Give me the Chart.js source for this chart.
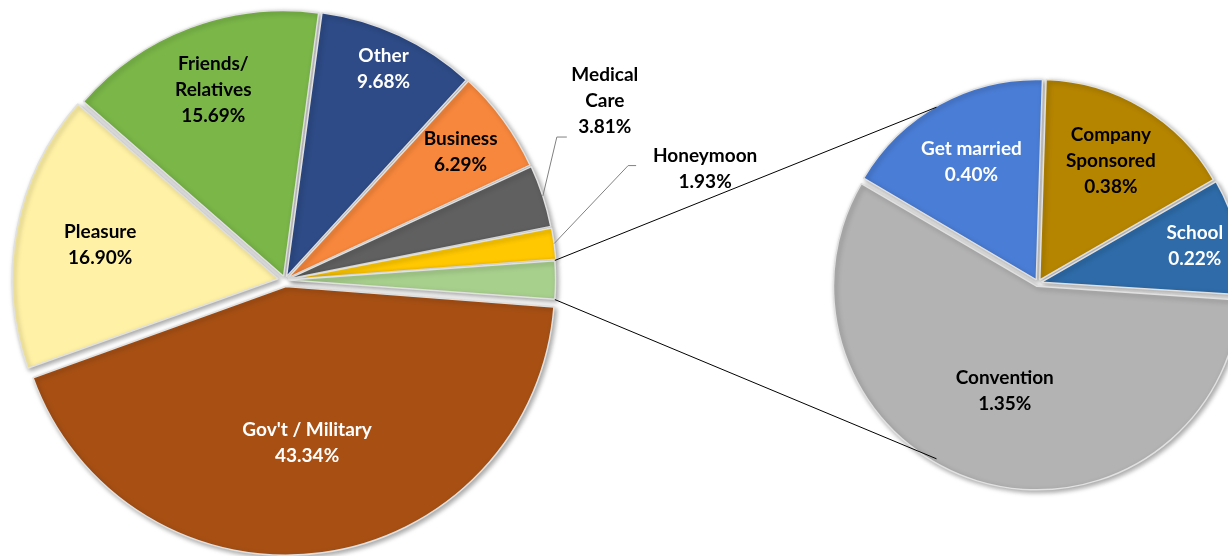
<!DOCTYPE html>
<html>
<head>
<meta charset="utf-8">
<script src="https://cdn.jsdelivr.net/npm/chart.js@4.4.1/dist/chart.umd.min.js"></script>
<style>
  html, body { margin: 0; padding: 0; background: #fff; overflow: hidden; }
  .wrap { position: absolute; left: 0; top: 0; width: 1228px; height: 556px; }
</style>
</head>
<body>
<div class="wrap"><canvas id="mainPie"></canvas></div>
<div class="wrap"><canvas id="subPie"></canvas></div>
<script>
// main pie
const mainCategories = [["Gov't / Military"], ['Pleasure'], ['Friends/', 'Relatives'], ['Other'], ['Business'], ['Medical', 'Care'], ['Honeymoon']];
const mainValues = [43.34, 16.90, 15.69, 9.68, 6.29, 3.81, 1.93];

// second pie (breakdown of the small slice)
const subCategories = [['Get married'], ['Company', 'Sponsored'], ['School'], ['Convention']];
const subValues = [0.40, 0.38, 0.22, 1.35];

const otherShare = subValues.reduce((a, b) => a + b, 0);
const mainTotal = mainValues.reduce((a, b) => a + b, 0) + otherShare;

const mainColors = ['#A85014', '#FFF1A5', '#7AB648', '#2E4B87', '#F7873C', '#606060', '#FFC800', '#A8D08D'];
const mainTextColors = ['#fff', '#000', '#000', '#fff', '#000', '#000', '#000'];
const mainLabelRadius = [0.58, 0.68, 0.75, 0.86, 0.8];
const mainOffsets = [26, 28, 16, 14, 14, 14, 14, 12];
const subColors = ['#4A7DD6', '#B58500', '#2E6BA8', '#B3B3B3'];
const subTextColors = ['#fff', '#000', '#fff', '#000'];
const subLabelRadius = [0.67, 0.69, 0.78, 0.53];

// leader lines for the thin slices, relative to the slice edge
const outsideLabels = {
  5: { elbow: [14, -59], end: [24, -59], text: [62, -95] },
  6: { elbow: [74, -78], end: [82, -78], text: [151, -75] }
};

const FONT = 'bold 19px Lato, sans-serif';
const LINE_H = 26;

function arcShift(arc) {
  const off = (arc.options.offset || 0) / 4;
  const fix = 1 - Math.sin(Math.min(Math.PI, arc.circumference));
  return off + off * fix;
}

function arcPoint(arc, r) {
  const mid = (arc.startAngle + arc.endAngle) / 2;
  const s = arcShift(arc);
  return [arc.x + Math.cos(mid) * (s + r), arc.y + Math.sin(mid) * (s + r)];
}

function edgePoint(arc, angle) {
  const mid = (arc.startAngle + arc.endAngle) / 2;
  const s = arcShift(arc);
  return [arc.x + Math.cos(mid) * s + Math.cos(angle) * arc.outerRadius,
          arc.y + Math.sin(mid) * s + Math.sin(angle) * arc.outerRadius];
}

function drawText(ctx, lines, x, y, color) {
  ctx.fillStyle = color;
  const y0 = y - (lines.length - 1) * LINE_H / 2;
  lines.forEach((t, i) => ctx.fillText(t, x, y0 + i * LINE_H));
}

const shadowPlugin = {
  id: 'shadow',
  beforeDatasetsDraw(chart) {
    const ctx = chart.ctx;
    ctx.save();
    ctx.shadowColor = 'rgba(0,0,0,0.35)';
    ctx.shadowBlur = 5;
    ctx.shadowOffsetX = 2;
    ctx.shadowOffsetY = 2;
  },
  afterDatasetsDraw(chart) {
    chart.ctx.restore();
  }
};

const mainLabelPlugin = {
  id: 'mainLabels',
  afterDatasetsDraw(chart) {
    const ctx = chart.ctx;
    const arcs = chart.getDatasetMeta(0).data;
    ctx.save();
    ctx.font = FONT;
    ctx.textAlign = 'center';
    ctx.textBaseline = 'middle';
    mainCategories.forEach((lines, i) => {
      const arc = arcs[i];
      const text = lines.concat([mainValues[i].toFixed(2) + '%']);
      if (outsideLabels[i]) {
        const o = outsideLabels[i];
        const [sx, sy] = arcPoint(arc, arc.outerRadius);
        ctx.strokeStyle = '#808080';
        ctx.lineWidth = 1;
        ctx.beginPath();
        ctx.moveTo(sx, sy);
        ctx.lineTo(sx + o.elbow[0], sy + o.elbow[1]);
        ctx.lineTo(sx + o.end[0], sy + o.end[1]);
        ctx.stroke();
        drawText(ctx, text, sx + o.text[0], sy + o.text[1], '#000');
      } else {
        const [x, y] = arcPoint(arc, arc.outerRadius * mainLabelRadius[i]);
        drawText(ctx, text, x, y, mainTextColors[i]);
      }
    });
    ctx.restore();
  }
};

const subLabelPlugin = {
  id: 'subLabels',
  afterDatasetsDraw(chart) {
    const ctx = chart.ctx;
    const arcs = chart.getDatasetMeta(0).data;
    ctx.save();
    // connector lines from the small slice of the main pie
    const main = Chart.getChart('mainPie');
    if (main) {
      const mArcs = main.getDatasetMeta(0).data;
      const small = mArcs[mArcs.length - 1];
      const up = edgePoint(small, small.startAngle);
      const down = edgePoint(small, small.endAngle);
      const c = arcs[0];
      const r = c.outerRadius + 3;
      ctx.strokeStyle = '#000';
      ctx.lineWidth = 1;
      ctx.beginPath();
      ctx.moveTo(up[0], up[1]);
      ctx.lineTo(c.x + Math.cos(Math.PI * 4 / 3) * r, c.y + Math.sin(Math.PI * 4 / 3) * r);
      ctx.moveTo(down[0], down[1]);
      ctx.lineTo(c.x + Math.cos(Math.PI * 2 / 3) * r, c.y + Math.sin(Math.PI * 2 / 3) * r);
      ctx.stroke();
    }
    ctx.font = FONT;
    ctx.textAlign = 'center';
    ctx.textBaseline = 'middle';
    subCategories.forEach((lines, i) => {
      const arc = arcs[i];
      const [x, y] = arcPoint(arc, arc.outerRadius * subLabelRadius[i]);
      drawText(ctx, lines.concat([subValues[i].toFixed(2) + '%']), x, y, subTextColors[i]);
    });
    ctx.restore();
  }
};

new Chart(document.getElementById('mainPie'), {
  type: 'pie',
  data: {
    labels: mainCategories.map(l => l.join(' ')).concat(['Other purposes']),
    datasets: [{
      data: mainValues.concat([otherShare]),
      backgroundColor: mainColors,
      borderColor: 'rgba(225,225,225,1)',
      borderWidth: 1.5,
      offset: c => mainOffsets[c.dataIndex],
      radius: 265,
      clip: false
    }]
  },
  options: {
    responsive: true,
    maintainAspectRatio: false,
    animation: false,
    events: [],
    rotation: 90 + (otherShare / mainTotal) * 180,
    layout: { padding: { left: 0, top: 4, right: 658, bottom: 0 } },
    plugins: {
      legend: { display: false },
      tooltip: { enabled: false }
    }
  },
  plugins: [shadowPlugin, mainLabelPlugin]
});

new Chart(document.getElementById('subPie'), {
  type: 'pie',
  data: {
    labels: subCategories.map(l => l.join(' ')),
    datasets: [{
      data: subValues,
      backgroundColor: subColors,
      borderColor: 'rgba(225,225,225,1)',
      borderWidth: 1.5,
      offset: 14,
      radius: 200,
      clip: false
    }]
  },
  options: {
    responsive: true,
    maintainAspectRatio: false,
    animation: false,
    events: [],
    rotation: 300.5,
    layout: { padding: { left: 848, top: 10, right: 0, bottom: 0 } },
    plugins: {
      legend: { display: false },
      tooltip: { enabled: false }
    }
  },
  plugins: [shadowPlugin, subLabelPlugin]
});
</script>
</body>
</html>
